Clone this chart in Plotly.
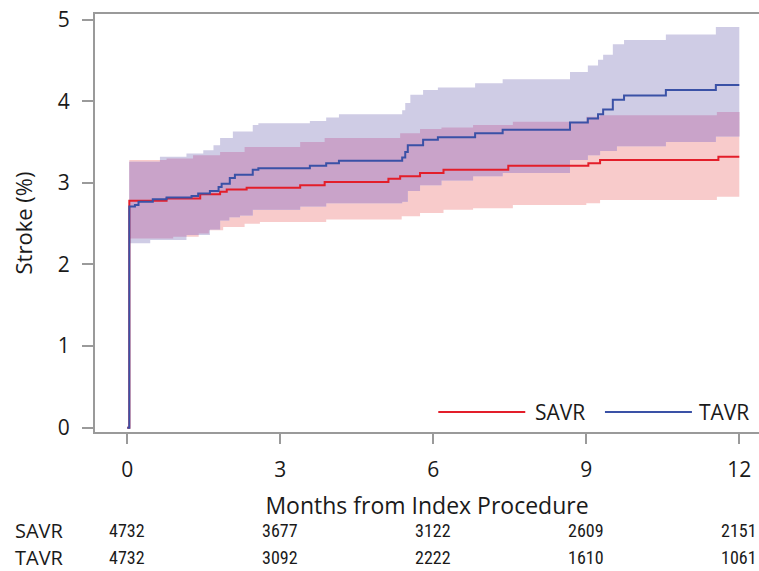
import numpy as np
import plotly.graph_objects as go

# ---------------- data ----------------
months_ticks = [0, 3, 6, 9, 12]

savr_t = [0, 0.04, 0.77, 1.43, 1.82, 1.95, 2.34, 3.39, 3.87, 5.12, 5.35, 5.74, 6.2, 7.47, 9.04, 9.27, 11.59, 12.0]
savr_est = [0, 2.78, 2.81, 2.86, 2.89, 2.92, 2.94, 2.97, 3.01, 3.05, 3.08, 3.12, 3.16, 3.21, 3.24, 3.28, 3.32, 3.32]

tavr_t = [0, 0.04, 0.15, 0.22, 0.5, 0.77, 1.26, 1.39, 1.62, 1.79, 1.85, 2.01, 2.11, 2.46, 2.57, 3.58, 3.9, 4.15,
          5.39, 5.45, 5.5, 5.8, 6.09, 6.82, 7.36, 8.68, 9.03, 9.23, 9.33, 9.52, 9.74, 10.56, 11.54, 12.0]
tavr_est = [0, 2.71, 2.73, 2.77, 2.80, 2.82, 2.84, 2.87, 2.90, 2.95, 2.99, 3.06, 3.10, 3.16, 3.18, 3.21, 3.24, 3.27,
            3.31, 3.38, 3.46, 3.53, 3.56, 3.61, 3.65, 3.74, 3.79, 3.84, 3.90, 4.02, 4.07, 4.14, 4.20, 4.20]

savr_hi_t = [0.04, 0.77, 1.29, 1.82, 2.3, 3.39, 3.87, 5.35, 5.74, 6.16, 6.78, 7.56, 9.0, 9.27, 11.56, 12.0]
savr_hi = [3.28, 3.30, 3.34, 3.38, 3.44, 3.50, 3.55, 3.61, 3.66, 3.68, 3.71, 3.75, 3.81, 3.83, 3.87, 3.87]

savr_lo_t = [0.04, 0.9, 1.4, 1.6, 1.88, 2.3, 2.6, 3.9, 5.38, 5.74, 6.2, 6.78, 7.56, 9.0, 9.27, 11.56, 12.0]
savr_lo = [2.32, 2.34, 2.38, 2.42, 2.46, 2.50, 2.52, 2.55, 2.59, 2.63, 2.67, 2.69, 2.73, 2.75, 2.79, 2.83, 2.83]

tavr_hi_t = [0.04, 0.64, 1.16, 1.49, 1.69, 1.82, 2.07, 2.46, 2.57, 3.58, 3.9, 4.15, 5.39, 5.45, 5.55, 5.8, 6.09,
             6.82, 7.36, 8.68, 9.03, 9.23, 9.33, 9.52, 9.74, 10.56, 11.54, 12.0]
tavr_hi = [3.26, 3.32, 3.36, 3.40, 3.46, 3.55, 3.63, 3.71, 3.73, 3.76, 3.80, 3.84, 3.89, 3.98, 4.08, 4.14, 4.17,
           4.22, 4.27, 4.36, 4.44, 4.51, 4.57, 4.70, 4.75, 4.82, 4.91, 4.91]

tavr_lo_t = [0.04, 0.45, 1.16, 1.62, 1.82, 2.0, 2.21, 2.46, 3.39, 3.9, 5.39, 5.5, 5.74, 6.16, 6.78, 7.36,
             8.68, 9.03, 9.27, 9.6, 10.56, 11.54, 12.0]
tavr_lo = [2.26, 2.30, 2.36, 2.43, 2.54, 2.58, 2.60, 2.67, 2.71, 2.75, 2.77, 2.90, 2.97, 3.03, 3.08, 3.12,
           3.28, 3.34, 3.39, 3.45, 3.50, 3.57, 3.57]

risk_savr = [4732, 3677, 3122, 2609, 2151]
risk_tavr = [4732, 3092, 2222, 1610, 1061]

# ---------------- styling ----------------
RED = "#e31e2a"
BLUE = "#3a51a6"
PINK = "#f8cbcb"
LAV = "#cfcce5"
PURP = "#c9a3c9"
AXC = "#9a9a9a"
FONT = "Open Sans"
NARROW = "Liberation Sans Narrow, Roboto Condensed, Liberation Sans"
TXT = "#1a1a1a"


def step_eval(ts, vs, grid):
    ts = np.asarray(ts)
    vs = np.asarray(vs)
    idx = np.searchsorted(ts, grid, side="right") - 1
    idx = np.clip(idx, 0, len(vs) - 1)
    return vs[idx]


grid = np.unique(np.concatenate([savr_hi_t, savr_lo_t, tavr_hi_t, tavr_lo_t]))
s_lo = step_eval(savr_lo_t, savr_lo, grid)
s_hi = step_eval(savr_hi_t, savr_hi, grid)
t_lo = step_eval(tavr_lo_t, tavr_lo, grid)
t_hi = step_eval(tavr_hi_t, tavr_hi, grid)
o_lo = np.maximum(s_lo, t_lo)
o_hi = np.minimum(s_hi, t_hi)

fig = go.Figure()


def band(lo, hi, color):
    fig.add_trace(go.Scatter(x=grid, y=lo, mode="lines", line=dict(width=0, shape="hv"),
                             showlegend=False, hoverinfo="skip"))
    fig.add_trace(go.Scatter(x=grid, y=hi, mode="lines", line=dict(width=0, shape="hv"),
                             fill="tonexty", fillcolor=color, showlegend=False, hoverinfo="skip"))


band(s_lo, s_hi, PINK)
band(t_lo, t_hi, LAV)
band(o_lo, o_hi, PURP)

fig.add_trace(go.Scatter(x=savr_t, y=savr_est, mode="lines", name="SAVR",
                         line=dict(color=RED, width=2, shape="hv"), showlegend=False))
fig.add_trace(go.Scatter(x=tavr_t, y=tavr_est, mode="lines", name="TAVR",
                         line=dict(color=BLUE, width=2, shape="hv"), showlegend=False))

# custom legend (bottom right, inside the plot)
legend_items = [("SAVR", RED, 0.517, 0.648, 0.659), ("TAVR", BLUE, 0.768, 0.899, 0.907)]
for name, col, x0, x1, xt in legend_items:
    fig.add_shape(type="line", xref="paper", yref="paper", x0=x0, x1=x1, y0=0.048, y1=0.048,
                  line=dict(color=col, width=2))
    fig.add_annotation(xref="paper", yref="paper", x=xt, y=0.048, text=name, showarrow=False,
                       xanchor="left", yanchor="middle", font=dict(family=FONT, size=21, color=TXT))

# risk table
for row_name, vals, yy in [("SAVR", risk_savr, -0.236), ("TAVR", risk_tavr, -0.300)]:
    fig.add_annotation(xref="paper", yref="paper", x=-0.124, y=yy, text=row_name, showarrow=False,
                       xanchor="left", yanchor="middle", font=dict(family=FONT, size=20, color=TXT))
    for m, v in zip(months_ticks, vals):
        fig.add_annotation(xref="x", yref="paper", x=m, y=yy, text=str(v), showarrow=False,
                           xanchor="center", yanchor="middle",
                           font=dict(family=NARROW, size=18, color=TXT))

fig.update_layout(
    width=759, height=571,
    margin=dict(l=95, r=0, t=14, b=139),
    paper_bgcolor="white", plot_bgcolor="white",
    font=dict(family=FONT, size=20, color=TXT),
    showlegend=False,
)
fig.update_xaxes(
    range=[-0.633, 12.386], tickvals=months_ticks, ticktext=[str(m) for m in months_ticks],
    showgrid=False, zeroline=False, showline=True, linecolor=AXC, linewidth=2, mirror=True,
    ticks="outside", ticklen=10, tickwidth=2, tickcolor=AXC,
    tickfont=dict(family=FONT, size=21, color=TXT), ticklabelstandoff=8,
    title=dict(text="Months from Index Procedure", font=dict(family=FONT, size=23, color=TXT), standoff=16),
)
fig.update_yaxes(
    range=[-0.053, 5.07], tickvals=[0, 1, 2, 3, 4, 5],
    showgrid=False, zeroline=False, showline=True, linecolor=AXC, linewidth=2,
    ticks="outside", ticklen=11, tickwidth=2, tickcolor=AXC,
    tickfont=dict(family=FONT, size=21, color=TXT), ticklabelstandoff=8,
    title=dict(text="Stroke (%)", font=dict(family=FONT, size=22, color=TXT), standoff=19),
)

fig.write_html("out.html", config={"displayModeBar": False},
               post_script="document.body.style.margin='0';")
